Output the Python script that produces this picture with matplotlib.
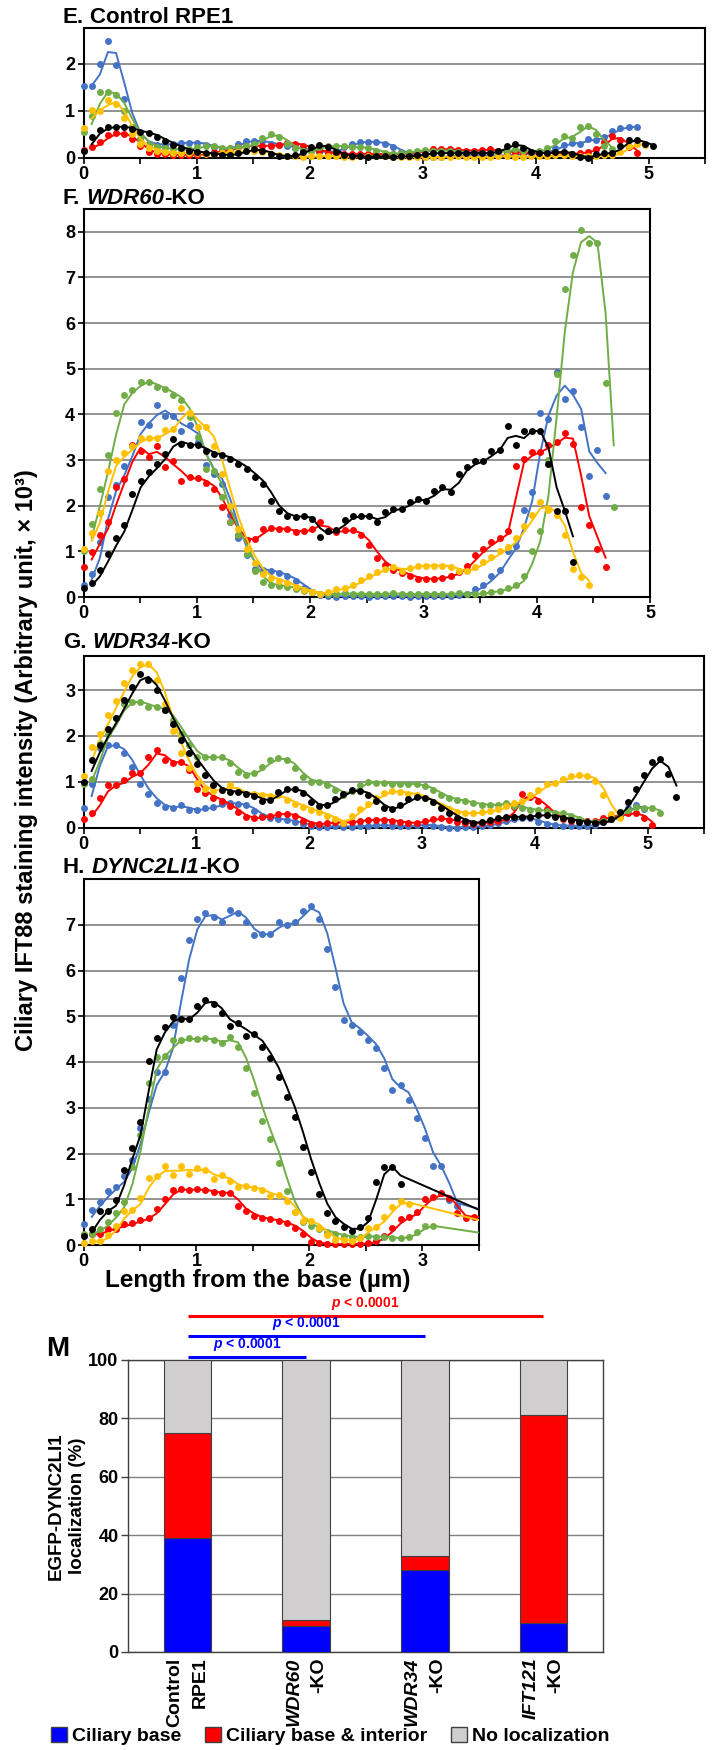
import numpy as np
import pandas as pd
import matplotlib
matplotlib.use('Agg')
import matplotlib.pyplot as plt
from matplotlib.patches import Patch
from matplotlib.ticker import MultipleLocator

plt.rcParams['font.family'] = ['Liberation Sans', 'DejaVu Sans']
plt.rcParams['font.weight'] = 'bold'
plt.rcParams['mathtext.fontset'] = 'custom'
plt.rcParams['mathtext.it'] = 'Liberation Sans:italic:bold'
plt.rcParams['mathtext.rm'] = 'Liberation Sans:bold'

STEP = 0.072  # µm between two profile samples
nan = np.nan

BLUE, RED, GREEN, YELLOW, BLACK = '#4472C4', '#FF0000', '#70AD47', '#FFC000', '#000000'

# ---- E. Control RPE1
e_blue = [1.53, 1.53, 2.00, 2.49, 1.96, 1.24, 0.65, 0.40, 0.30, 0.28, 0.28, 0.30, 0.32, 0.32, 0.32,
          0.28, 0.22, 0.18, 0.20, 0.30, 0.35, 0.36, 0.35, 0.30, 0.28, 0.25, 0.20, 0.18, 0.15, 0.12,
          0.12, 0.15, 0.22, 0.30, 0.34, 0.34, 0.33, 0.30, 0.22, 0.12, 0.06, 0.03, 0.02, 0.01, 0.02,
          0.04, 0.05, 0.06, 0.06, 0.05, 0.04, 0.05, 0.06, 0.07, 0.08, 0.08, 0.10, 0.12, 0.20, 0.28,
          0.32, 0.30, 0.40, 0.38, 0.45, 0.57, 0.63, 0.66, 0.66]
e_red = [0.16, 0.23, 0.34, 0.48, 0.53, 0.50, 0.40, 0.24, 0.13, 0.08, 0.07, 0.06, 0.06, 0.06, 0.06,
         0.08, 0.12, 0.15, 0.18, 0.22, 0.25, 0.26, 0.25, 0.25, 0.28, 0.32, 0.30, 0.25, 0.20, 0.15,
         0.10, 0.08, 0.08, 0.08, 0.08, 0.08, 0.08, 0.08, 0.08, 0.08, 0.10, 0.12, 0.15, 0.18, 0.18,
         0.18, 0.16, 0.15, 0.15, 0.16, 0.18, 0.15, 0.12, 0.12, 0.10, 0.10, 0.10, 0.10, 0.10, 0.08,
         0.08, 0.10, 0.13, 0.18, 0.34, 0.46, 0.38, 0.22, 0.10]
e_green = [0.55, 0.88, 1.40, 1.40, 1.33, 1.00, 0.65, 0.40, 0.28, 0.22, 0.20, 0.18, 0.16, 0.18, 0.22,
           0.25, 0.24, 0.20, 0.20, 0.22, 0.25, 0.30, 0.42, 0.50, 0.45, 0.30, 0.20, 0.15, 0.15, 0.22,
           0.25, 0.25, 0.25, 0.22, 0.22, 0.20, 0.15, 0.10, 0.08, 0.10, 0.12, 0.15, 0.16, 0.15, 0.15,
           0.15, 0.12, 0.10, 0.10, 0.10, 0.10, 0.12, 0.15, 0.18, 0.15, 0.12, 0.15, 0.20, 0.35, 0.46,
           0.42, 0.66, 0.68, 0.50, 0.25, 0.18]
e_yellow = [0.64, 1.02, 1.00, 1.23, 1.15, 0.84, 0.50, 0.30, 0.20, 0.15, 0.12, 0.10, 0.10, 0.10, 0.10,
            0.08, 0.08, 0.10, 0.12, 0.12, 0.15, 0.15, 0.12, 0.08, 0.05, 0.03, 0.03, 0.02, 0.03, 0.03,
            0.04, 0.03, 0.02, 0.02, 0.03, 0.03, 0.04, 0.03, 0.02, 0.01, 0.01, 0.02, 0.02, 0.01, 0.02,
            0.02, 0.03, 0.02, 0.01, 0.02, 0.02, 0.03, 0.03, 0.02, 0.02, 0.03, 0.03, 0.04, 0.05, 0.05,
            0.04, 0.03, 0.03, 0.04, 0.05, 0.05, 0.12, 0.25, 0.30, 0.28]
e_black = [0.14, 0.43, 0.59, 0.65, 0.66, 0.66, 0.60, 0.55, 0.52, 0.45, 0.35, 0.28, 0.20, 0.15, 0.12,
           0.10, 0.08, 0.06, 0.05, 0.10, 0.15, 0.18, 0.15, 0.08, 0.03, 0.03, 0.05, 0.12, 0.22, 0.28,
           0.22, 0.12, 0.05, 0.03, 0.03, 0.02, 0.03, 0.03, 0.02, 0.03, 0.03, 0.05, 0.08, 0.10, 0.10,
           0.09, 0.10, 0.10, 0.11, 0.10, 0.10, 0.15, 0.24, 0.30, 0.21, 0.12, 0.10, 0.10, 0.12, 0.13,
           0.08, 0.02, 0.00, 0.08, 0.10, 0.10, 0.25, 0.38, 0.38, 0.29, 0.25]

# ---- F. WDR60-KO
f_blue = [0.27, 0.50, 1.20, 2.20, 2.45, 2.88, 3.30, 3.84, 3.77, 4.20, 3.97, 3.96, 3.64, 3.77, 3.40,
          2.90, 2.70, 2.48, 1.80, 1.30, 0.91, 0.62, 0.60, 0.57, 0.52, 0.45, 0.35, 0.20, 0.10, 0.05,
          0.02, 0.01, 0.02, 0.03, 0.02, 0.01, 0.02, 0.02, 0.03, 0.02, 0.01, 0.02, 0.03, 0.02, 0.02,
          0.03, 0.04, 0.06, 0.18, 0.26, 0.45, 0.60, 1.00, 1.12, 1.90, 2.30, 4.04, 3.91, 4.92, 4.34,
          4.52, 3.72, 2.66, 3.21, 2.22]
f_red = [0.66, 0.98, 1.35, 1.64, 2.40, 2.59, 3.34, 3.20, 3.06, 3.30, 2.84, 2.97, 2.55, 2.62, 2.60,
         2.50, 2.37, 1.97, 1.64, 1.35, 1.24, 1.27, 1.49, 1.51, 1.49, 1.49, 1.42, 1.45, 1.49, 1.64,
         1.44, 1.42, 1.46, 1.46, 1.35, 1.13, 0.85, 0.70, 0.60, 0.52, 0.47, 0.40, 0.40, 0.40, 0.42,
         0.47, 0.55, 0.69, 0.91, 1.06, 1.20, 1.30, 1.45, 2.88, 3.02, 3.17, 3.18, 3.34, 3.39, 3.59,
         3.35, 1.97, 1.57, 1.06, 0.66]
f_green = [1.00, 1.60, 2.37, 3.10, 4.02, 4.42, 4.53, 4.72, 4.72, 4.60, 4.55, 4.42, 4.32, 3.95, 3.50,
           2.80, 2.75, 2.20, 1.65, 1.36, 0.95, 0.58, 0.33, 0.27, 0.25, 0.22, 0.18, 0.14, 0.10,
           0.07, 0.06, 0.07, 0.08, 0.07, 0.07, 0.06, 0.07, 0.07, 0.08, 0.07, 0.06, 0.07, 0.07, 0.06,
           0.07, 0.07, 0.08, 0.07, 0.07, 0.08, 0.12, 0.14, 0.20, 0.26, 0.45, 1.00, 1.45, 3.00, 4.88,
           6.74, 7.50, 8.05, 7.76, 7.76, 4.68, 1.97]
f_yellow = [1.06, 1.40, 1.85, 2.75, 3.00, 3.15, 3.30, 3.48, 3.48, 3.48, 3.65, 3.68, 4.13, 4.04, 3.72,
            3.72, 3.30, 2.70, 2.00, 1.50, 1.05, 0.75, 0.50, 0.42, 0.36, 0.30, 0.22, 0.16, 0.11, 0.07,
            0.11, 0.17, 0.20, 0.26, 0.38, 0.47, 0.55, 0.62, 0.66, 0.58, 0.64, 0.69, 0.69, 0.69, 0.69,
            0.66, 0.58, 0.56, 0.66, 0.77, 0.88, 1.00, 1.10, 1.30, 1.55, 1.80, 2.08, 1.90, 1.79, 1.35,
            0.62, 0.44, 0.27]
f_black = [0.20, 0.30, 0.60, 0.95, 1.30, 1.57, 2.25, 2.55, 2.73, 2.91, 3.13, 3.46, 3.35, 3.34, 3.32,
           3.20, 3.13, 3.10, 3.02, 2.91, 2.80, 2.62, 2.48, 2.11, 1.89, 1.78, 1.75, 1.77, 1.71, 1.31,
           1.45, 1.46, 1.68, 1.77, 1.77, 1.77, 1.64, 1.86, 1.93, 1.93, 2.08, 2.15, 2.11, 2.33, 2.40,
           2.30, 2.70, 2.84, 2.97, 2.97, 3.20, 3.23, 3.74, 3.32, 3.64, 3.64, 3.63, 2.91, 1.89, 1.89,
           0.77]

# ---- G. WDR34-KO
g_blue = [0.42, 0.95, 1.73, 1.80, 1.80, 1.62, 1.33, 0.96, 0.74, 0.54, 0.45, 0.43, 0.49, 0.38, 0.38,
          0.42, 0.45, 0.52, 0.54, 0.51, 0.49, 0.35, 0.25, 0.21, 0.18, 0.16, 0.13, 0.08, 0.04,
          0.02, 0.02, 0.03, 0.02, 0.02, 0.03, 0.04, 0.05, 0.05, 0.04, 0.03, 0.03, 0.05, 0.06, 0.04,
          0.02, 0.00, 0.00, 0.02, 0.02, 0.03, 0.06, 0.10, 0.15, 0.18, 0.20, 0.20, 0.12, 0.08, 0.05,
          0.04, 0.04, 0.03, 0.04, 0.06, 0.12, 0.18, 0.25, 0.42, 0.49, 0.40]
g_red = [0.18, 0.31, 0.65, 0.92, 0.92, 1.03, 1.18, 1.20, 1.54, 1.69, 1.47, 1.40, 1.43, 1.25, 0.85,
         0.75, 0.64, 0.57, 0.47, 0.33, 0.22, 0.20, 0.22, 0.26, 0.30, 0.30, 0.25, 0.15, 0.08, 0.07,
         0.10, 0.12, 0.10, 0.12, 0.15, 0.17, 0.17, 0.17, 0.15, 0.12, 0.10, 0.10, 0.15, 0.18, 0.20,
         0.17, 0.12, 0.10, 0.08, 0.10, 0.12, 0.15, 0.20, 0.45, 0.74, 0.67, 0.58, 0.40, 0.25, 0.18,
         0.15, 0.14, 0.14, 0.15, 0.20, 0.27, 0.25, 0.31, 0.32, 0.20, 0.05]
g_green = [0.96, 1.05, 1.84, 2.05, 2.40, 2.70, 2.75, 2.75, 2.64, 2.62, 2.56, 2.35, 2.05, 1.80, 1.54,
           1.54, 1.53, 1.53, 1.40, 1.22, 1.14, 1.20, 1.32, 1.48, 1.51, 1.48, 1.30, 1.10, 1.00, 1.00,
           0.92, 0.82, 0.72, 0.80, 0.92, 1.00, 0.98, 0.97, 0.96, 0.96, 0.95, 0.94, 0.90, 0.82, 0.70,
           0.64, 0.60, 0.57, 0.53, 0.50, 0.49, 0.50, 0.53, 0.48, 0.43, 0.39, 0.38, 0.35, 0.32, 0.31,
           0.25, 0.18, 0.13, 0.12, 0.14, 0.20, 0.30, 0.38, 0.45, 0.42, 0.43, 0.31]
g_yellow = [1.13, 1.76, 2.05, 2.45, 2.76, 3.16, 3.44, 3.56, 3.56, 3.22, 2.70, 2.10, 1.62, 1.30, 0.98,
            0.84, 0.80, 0.82, 0.92, 0.80, 0.74, 0.74, 0.72, 0.68, 0.70, 0.60, 0.52, 0.45, 0.38, 0.33,
            0.26, 0.18, 0.10, 0.25, 0.40, 0.52, 0.65, 0.76, 0.80, 0.78, 0.74, 0.72, 0.65, 0.56, 0.48,
            0.40, 0.33, 0.31, 0.31, 0.33, 0.36, 0.40, 0.46, 0.54, 0.58, 0.70, 0.82, 0.96, 0.97, 1.05,
            1.12, 1.14, 1.13, 1.02, 0.70, 0.30, 0.20]
g_black = [1.00, 1.47, 1.80, 2.15, 2.40, 2.78, 3.07, 3.36, 3.22, 3.00, 2.56, 2.25, 1.91, 1.62, 1.38,
           1.14, 0.92, 0.82, 0.78, 0.78, 0.74, 0.68, 0.58, 0.60, 0.78, 0.84, 0.84, 0.75, 0.55, 0.46,
           0.50, 0.62, 0.74, 0.82, 0.80, 0.72, 0.58, 0.42, 0.40, 0.50, 0.62, 0.67, 0.65, 0.55, 0.43,
           0.32, 0.20, 0.14, 0.10, 0.11, 0.17, 0.21, 0.23, 0.23, 0.24, 0.24, 0.27, 0.27, 0.24, 0.21,
           0.17, 0.13, 0.12, 0.10, 0.11, 0.18, 0.33, 0.55, 0.85, 1.15, 1.42, 1.49, 1.16, 0.67]

# ---- H. DYNC2LI1-KO (nan = no sample; last value lies past the 3.5 µm axis end)
h_blue = [0.46, 0.77, 0.93, 1.17, 1.27, 1.50, 1.85, 2.56, 3.20, 3.79, 3.79, 4.81, 5.83, 6.67, 7.13,
          7.25, 7.17, 7.06, 7.33, 7.25, 7.06, 6.77, 6.80, 6.80, 7.06, 6.99, 7.06, 7.31, 7.41, 7.13,
          6.48, 5.63, 4.92, 4.81, 4.66, 4.48, 4.30, 3.86, 3.39, 3.50, 3.17, 2.77, 2.33, 1.73, 1.73,
          0.98, 0.85, nan, nan, nan, 0.60]
h_red = [0.22, 0.24, 0.24, 0.36, 0.36, 0.45, 0.47, 0.55, 0.60, 0.78, 1.00, 1.20, 1.22, 1.20, 1.22,
         1.20, 1.15, 1.14, 1.14, 0.85, 0.74, 0.63, 0.58, 0.56, 0.52, 0.47, 0.38, 0.24, 0.07, 0.04,
         0.02, 0.02, 0.02, 0.02, 0.03, 0.04, 0.08, 0.20, 0.38, 0.56, 0.62, 0.72, 1.00, 1.04, 1.13,
         1.02, 0.69, 0.60, 0.62, 0.60]
h_green = [0.25, 0.25, 0.35, 0.50, 0.70, 0.95, 1.70, 2.40, 3.55, 4.12, 4.13, 4.48, 4.47, 4.52, 4.50,
           4.52, 4.48, 4.41, 4.54, 4.32, 3.86, 3.32, 2.72, 2.31, 1.79, 1.17, 0.73, 0.51, 0.42, 0.35,
           0.29, 0.24, 0.20, 0.18, 0.17, 0.20, 0.18, 0.18, 0.15, 0.15, 0.18, 0.29, 0.42, 0.42,
           nan, nan, nan, nan, nan, nan, 0.05]
h_yellow = [0.05, 0.08, 0.08, 0.22, 0.42, 0.74, 0.77, 1.02, 1.47, 1.50, 1.73, 1.52, 1.73, 1.56, 1.68,
            1.64, 1.45, 1.53, 1.39, 1.27, 1.28, 1.24, 1.20, 1.08, 1.09, 0.97, 0.72, 0.52, 0.53, 0.37,
            0.22, 0.12, 0.11, 0.09, 0.16, 0.38, 0.40, 0.62, 0.82, 0.96, 0.90,
            nan, nan, nan, nan, nan, nan, nan, nan, nan, 0.07]
h_black = [0.20, 0.35, 0.74, 0.74, 0.98, 1.64, 2.12, 2.68, 4.03, 4.52, 4.77, 4.99, 4.93, 4.93, 5.23,
           5.36, 5.27, 5.08, 4.79, 4.86, 4.57, 4.61, 4.32, 4.08, 3.68, 3.24, 2.79, 2.15, 1.60, 1.11,
           0.69, 0.53, 0.40, 0.31, 0.40, 0.60, 1.38, 1.71, 1.71, 1.33,
           nan, nan, nan, nan, nan, nan, nan, nan, nan, nan, 0.00]

# ---- M. EGFP-DYNC2LI1 localization (%)
groups = ['Control', 'WDR60', 'WDR34', 'IFT121']
group_line2 = ['RPE1', '-KO', '-KO', '-KO']
group_italic = [False, True, True, True]
ciliary_base = [39, 9, 28, 10]
base_interior = [36, 2, 5, 71]
no_local = [25, 89, 67, 19]
p_pairs = [(0, 3, RED), (0, 2, '#0000FF'), (0, 1, '#0000FF')]  # compared groups
p_text = 'p < 0.0001'

W, H = 715, 1750
fig = plt.figure(figsize=(W / 100, H / 100), dpi=100)
renderer = fig.canvas.get_renderer()


def add_axes_px(left, top, right, bottom):
    return fig.add_axes([left / W, 1 - bottom / H, (right - left) / W, (bottom - top) / H])


def rich_text(x_px, base_px, parts, gap_px=6, **kw):
    # pieces written one after the other, some of them italic
    x = x_px
    for txt, style in parts:
        t = fig.text(x / W, 1 - base_px / H, txt, fontstyle=style, va='baseline', ha='left', **kw)
        bb = t.get_window_extent(renderer)
        x = bb.x1 + (gap_px if txt.endswith('.') else 0)


def profile_panel(box, series, xmax, ymax, nticks):
    ax = add_axes_px(*box)
    for y, color in series:
        y = np.asarray(y, float)
        x = STEP * np.arange(len(y))
        ok = ~np.isnan(y)
        xs, ys = x[ok], y[ok]
        # Excel-style 2-point moving average trend line
        avg = pd.Series(ys).rolling(2).mean().to_numpy()
        ax.plot(xs[1:], avg[1:], color=color, lw=1.4, zorder=3)
        vis = xs <= xmax
        ax.plot(xs[vis], ys[vis], 'o', color=color, ms=5.0, mec='none', zorder=3, clip_on=False)
    ax.set_xlim(0, xmax)
    ax.set_ylim(0, ymax)
    ax.xaxis.set_major_locator(MultipleLocator(1))
    ax.xaxis.set_minor_locator(MultipleLocator(0.5))
    ax.set_yticks(range(nticks))
    ax.grid(axis='y', color='#808080', lw=1.2)
    ax.set_axisbelow(True)
    for s in ax.spines.values():
        s.set_color('black')
        s.set_linewidth(1.5)
    ax.tick_params(which='both', direction='out', length=4, width=1.2, labelsize=13, pad=2)
    return ax


order = lambda b, r, g, yl, k: [(b, BLUE), (r, RED), (g, GREEN), (yl, YELLOW), (k, BLACK)]

profile_panel((83.5, 28.3, 705, 157.7), order(e_blue, e_red, e_green, e_yellow, e_black), 5.5, 2.75, 3)
profile_panel((83.5, 209, 650, 597), order(f_blue, f_red, f_green, f_yellow, f_black), 5.0, 8.5, 9)
profile_panel((83.5, 655.7, 704, 827.5), order(g_blue, g_red, g_green, g_yellow, g_black), 5.5, 3.75, 4)
profile_panel((83.6, 879, 478.6, 1245), order(h_blue, h_red, h_green, h_yellow, h_black), 3.5, 8.0, 8)

title_kw = dict(fontsize=16, fontweight='bold')
rich_text(63, 23, [('E.', 'normal'), ('Control RPE1', 'normal')], **title_kw)
rich_text(63, 204, [('F.', 'normal'), ('WDR60', 'italic'), ('-KO', 'normal')], **title_kw)
rich_text(63, 648, [('G.', 'normal'), ('WDR34', 'italic'), ('-KO', 'normal')], **title_kw)
rich_text(63, 873, [('H.', 'normal'), ('DYNC2LI1', 'italic'), ('-KO', 'normal')], **title_kw)

fig.text(27 / W, 1 - 760 / H, 'Ciliary IFT88 staining intensity (Arbitrary unit, × 10³)',
         rotation=90, ha='center', va='center', fontsize=17, fontweight='bold')
fig.text(258 / W, 1 - 1287 / H, 'Length from the base (µm)', ha='center', va='baseline',
         fontsize=17.5, fontweight='bold')

# ---- stacked bar panel
ax = add_axes_px(128.3, 1360, 602.7, 1652)
pos = np.arange(len(groups))
edge = dict(edgecolor='#404040', linewidth=0.8, width=0.4, zorder=3)
ax.bar(pos, ciliary_base, color='#0000FF', **edge)
ax.bar(pos, base_interior, bottom=ciliary_base, color='#FF0000', **edge)
ax.bar(pos, no_local, bottom=np.add(ciliary_base, base_interior), color='#D0CECE', **edge)
ax.set_xlim(-0.5, 3.5)
ax.set_ylim(0, 100)
ax.set_yticks(range(0, 101, 20))
ax.set_xticks([])
ax.grid(axis='y', color='#808080', lw=1.0)
ax.set_axisbelow(True)
for s in ax.spines.values():
    s.set_color('#404040')
    s.set_linewidth(1.0)
ax.tick_params(axis='y', direction='out', length=5, width=1, color='#404040', labelsize=13, pad=2)

for i, (l1, l2, it) in enumerate(zip(groups, group_line2, group_italic)):
    for txt, dx, style in ((l1, -9, 'italic' if it else 'normal'), (l2, 9, 'normal')):
        ax.annotate(txt, xy=(i, 0), xycoords=('data', 'axes fraction'), xytext=(dx, -4),
                    textcoords='offset points', rotation=90, ha='center', va='top',
                    fontsize=14, fontweight='bold', fontstyle=style, annotation_clip=False)

heights = [115.2, 108.3, 101.1]
for (a, b, c), h in zip(p_pairs, heights):
    ax.plot([a, b], [h, h], color=c, lw=2.2, clip_on=False, solid_capstyle='butt')
    ax.text((a + b) / 2, h + 1.2, r'$p$' + p_text[1:], color=c, ha='center', va='bottom',
            fontsize=10, fontweight='bold', clip_on=False)

fig.text(67 / W, 1 - 1506 / H, 'EGFP-DYNC2LI1\nlocalization (%)', rotation=90, ha='center',
         va='center', multialignment='center', fontsize=13.5, fontweight='bold', linespacing=1.3)
fig.text(46 / W, 1 - 1356 / H, 'M', fontsize=20, fontweight='bold', va='baseline')

handles = [Patch(facecolor='#0000FF', edgecolor='#404040', label='Ciliary base'),
           Patch(facecolor='#FF0000', edgecolor='#404040', label='Ciliary base & interior'),
           Patch(facecolor='#D0CECE', edgecolor='#404040', label='No localization')]
fig.legend(handles=handles, loc='center', bbox_to_anchor=(330 / W, 1 - 1736 / H), ncol=3,
           frameon=False, handlelength=0.85, handleheight=0.85, handletextpad=0.25,
           columnspacing=1.2, borderaxespad=0, prop=dict(size=14, weight='bold'))

fig.savefig('out.png', dpi=100)
